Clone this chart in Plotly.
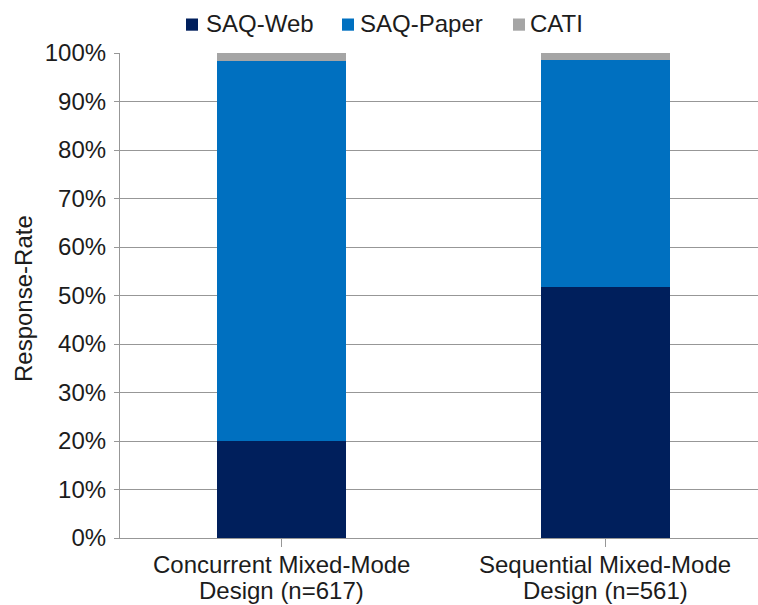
import plotly.graph_objects as go

# Response shares by survey mode (percent of respondents)
designs = ["Concurrent Mixed-Mode Design (n=617)", "Sequential Mixed-Mode Design (n=561)"]
design_lines = [["Concurrent Mixed-Mode", "Design (n=617)"],
                ["Sequential Mixed-Mode", "Design (n=561)"]]
modes = ["SAQ-Web", "SAQ-Paper", "CATI"]
web = [20.1, 51.8]
paper = [78.2, 46.8]
cati = [1.7, 1.4]
y_ticks = list(range(0, 101, 10))
y_tick_labels = [f"{v}%" for v in y_ticks]

colors = {"SAQ-Web": "#001f5c", "SAQ-Paper": "#0070c0", "CATI": "#a5a5a5"}
FONT = "Liberation Sans, Arial, sans-serif"
TEXT = "#1c1c1c"
GRID = "#979797"

W, H = 758, 605
ML, MR, MT, MB = 120, 0, 53, 67
PW, PH = W - ML - MR, H - MT - MB


def px_x(px):
    return (px - ML) / PW


def px_y(py):
    return (H - MB - py) / PH


fig = go.Figure()
for name, vals in zip(modes, [web, paper, cati]):
    fig.add_trace(go.Bar(
        x=[0, 1], y=vals, name=name, width=0.4,
        marker=dict(color=colors[name], line=dict(width=0)),
        showlegend=False, hoverinfo="name+y",
    ))

# Legend drawn as swatches + labels above the plot
legend_pos = [(186, 204), (342, 358), (513, 528)]
shapes = []
annotations = []
for name, (sx, tx) in zip(modes, legend_pos):
    shapes.append(dict(type="rect", xref="paper", yref="paper",
                       x0=px_x(sx), x1=px_x(sx + 12), y0=px_y(30.7), y1=px_y(18.5),
                       fillcolor=colors[name], line=dict(width=0)))
    annotations.append(dict(text=name, xref="paper", yref="paper",
                            x=px_x(tx), y=px_y(23), xanchor="left", yanchor="middle",
                            showarrow=False, font=dict(family=FONT, size=24, color=TEXT)))

# Two-line category labels below the axis
for i, lines in enumerate(design_lines):
    for j, line in enumerate(lines):
        annotations.append(dict(text=line, x=i, xref="x", yref="paper", y=0,
                                yanchor="middle", yshift=-26 - 26 * j, showarrow=False,
                                font=dict(family=FONT, size=24, color=TEXT)))

# Y axis title
annotations.append(dict(text="Response-Rate", xref="paper", yref="paper",
                        x=px_x(23), y=px_y(299), textangle=-90, showarrow=False,
                        xanchor="center", yanchor="middle",
                        font=dict(family=FONT, size=24, color=TEXT)))

fig.update_layout(
    width=W, height=H,
    margin=dict(l=ML, r=MR, t=MT, b=MB),
    paper_bgcolor="white", plot_bgcolor="white",
    barmode="stack", bargap=0.6,
    shapes=shapes, annotations=annotations,
    font=dict(family=FONT, size=24, color=TEXT),
    xaxis=dict(range=[-0.5, -0.5 + PW / 323.5], tickvals=[0, 1], ticktext=["", ""],
               showticklabels=False, tickson="boundaries", ticks="outside", ticklen=8,
               tickcolor=GRID, tickwidth=1.2, showgrid=False,
               showline=True, linecolor=GRID, linewidth=1.2, zeroline=False, fixedrange=True),
    yaxis=dict(range=[0, 100], tickvals=y_ticks, ticktext=y_tick_labels,
               ticks="outside", ticklen=5, tickcolor=GRID, tickwidth=1.2,
               ticklabelstandoff=3,
               showgrid=True, gridcolor=GRID, gridwidth=1.2,
               showline=True, linecolor=GRID, linewidth=1.2, zeroline=False,
               tickfont=dict(family=FONT, size=24, color=TEXT), fixedrange=True),
)

fig.write_html("out.html")
